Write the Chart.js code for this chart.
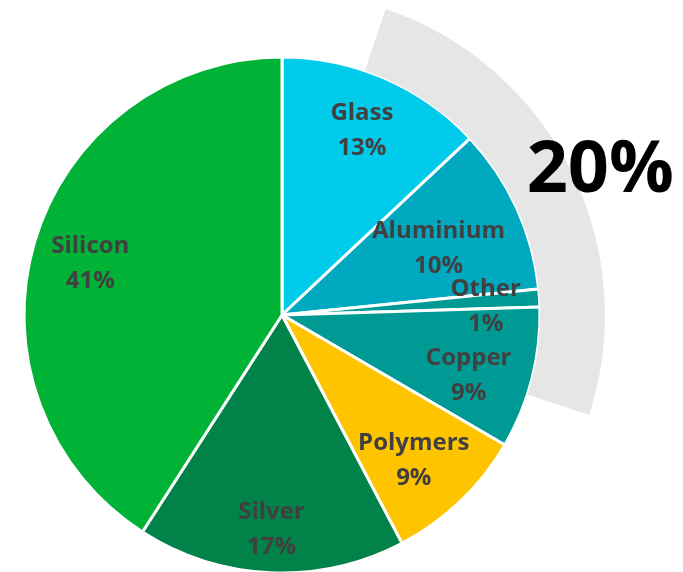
<!DOCTYPE html>
<html>
<head>
<meta charset="utf-8">
<script src="https://cdn.jsdelivr.net/npm/chart.js@4.4.1/dist/chart.umd.min.js"></script>
<style>
  html, body { margin: 0; padding: 0; width: 683px; height: 572px; overflow: hidden; background: #fff; }
  /* canvas bigger than the window so the grey ring fits around the pie */
  #wrap { position: absolute; left: -118px; top: -85px; width: 800px; height: 800px; }
</style>
</head>
<body>
<div id="wrap"><canvas id="pieChart" width="800" height="800"></canvas></div>
<script>
// -------------------- DATA --------------------
const materials = ['Glass', 'Aluminium', 'Other', 'Copper', 'Polymers', 'Silver', 'Silicon'];
const shares = [13, 10.4, 1.1, 8.9, 8.9, 16.8, 40.9];
const shareLabels = ['13%', '10%', '1%', '9%', '9%', '17%', '41%'];
const highlightRing = [5.2, 24.8, 70];   // gap, grey arc, rest
const highlightText = '20%';

// -------------------- STYLE --------------------
const sliceColors = ['#00cbea', '#00a8c0', '#009a95', '#009a95', '#ffc400', '#008248', '#00b236'];
const labelRadius = [0.78, 0.66, 0.79, 0.76, 0.76, 0.83, 0.77]; // fraction of pie radius
const labelNudge = [0, 1.3, 1.3, 3.6, 1.5, 0.3, -1.2];          // degrees, clockwise

const sliceLabels = {
  id: 'sliceLabels',
  afterDatasetsDraw(chart) {
    const ctx = chart.ctx;
    ctx.save();
    ctx.textAlign = 'center';
    ctx.textBaseline = 'middle';

    // labels inside the slices
    ctx.fillStyle = '#404040';
    ctx.font = '700 24px "Open Sans", sans-serif';
    chart.getDatasetMeta(1).data.forEach((arc, i) => {
      const p = arc.getProps(['x', 'y', 'startAngle', 'endAngle', 'outerRadius']);
      const mid = (p.startAngle + p.endAngle) / 2 + labelNudge[i] * Math.PI / 180;
      const r = p.outerRadius * labelRadius[i];
      const x = p.x + Math.cos(mid) * r;
      const y = p.y + Math.sin(mid) * r;
      ctx.fillText(materials[i], x, y - 17);
      ctx.fillText(shareLabels[i], x, y + 18);
    });

    // big number beside the grey ring
    const ring = chart.getDatasetMeta(0).data[1].getProps(['x', 'y', 'startAngle', 'endAngle', 'outerRadius']);
    const mid = (ring.startAngle + ring.endAngle) / 2 + 0.042;
    const r = ring.outerRadius + 26;
    ctx.fillStyle = '#000';
    ctx.font = '700 72px "Open Sans", sans-serif';
    ctx.fillText(highlightText, ring.x + Math.cos(mid) * r, ring.y + Math.sin(mid) * r);
    ctx.restore();
  }
};

// -------------------- CHART --------------------
const ctx = document.getElementById('pieChart').getContext('2d');

new Chart(ctx, {
  type: 'pie',
  data: {
    labels: materials,
    datasets: [
      {
        data: highlightRing,
        backgroundColor: ['rgba(0,0,0,0)', '#e6e6e6', 'rgba(0,0,0,0)'],
        borderWidth: 0,
        weight: 65,
      },
      {
        data: shares,
        backgroundColor: sliceColors,
        borderColor: '#fff',
        borderWidth: 3,
        weight: 258,
      },
    ],
  },
  options: {
    responsive: false,
    animation: false,
    radius: 323,
    events: [],
    plugins: {
      legend: { display: false },
      tooltip: { enabled: false },
    },
  },
  plugins: [sliceLabels],
});
</script>
</body>
</html>
